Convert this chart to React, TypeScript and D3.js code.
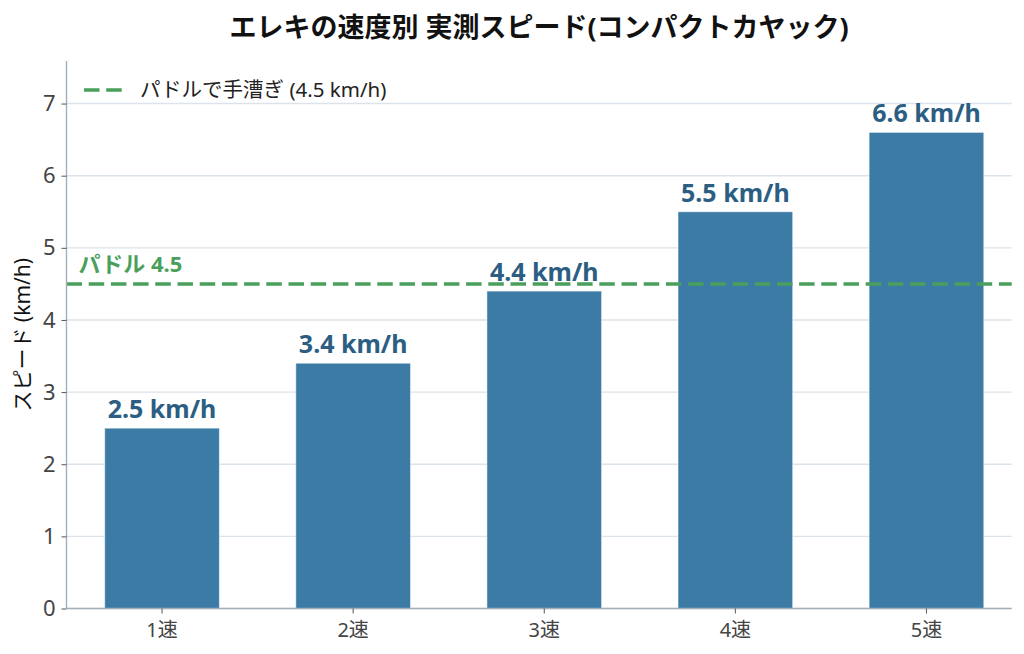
import React, { useEffect, useRef } from 'react';
import * as d3 from 'd3';

const categories = ['1速', '2速', '3速', '4速', '5速'];
const speeds = [2.5, 3.4, 4.4, 5.5, 6.6];
const yTicks = [0, 1, 2, 3, 4, 5, 6, 7];
const paddleSpeed = 4.5;

const W = 1024;
const H = 654;
const FONT = '"Noto Sans", "Noto Sans CJK JP", sans-serif';

const App: React.FC = () => {
  const svgRef = useRef<SVGSVGElement | null>(null);

  useEffect(() => {
    const svg = d3.select(svgRef.current);
    svg.selectAll('*').remove();

    const left = 66.5, right = 1011.7, top = 61, bottom = 608.5;
    const green = '#4a9f5c';
    const dash = '15.5,6.7';

    const x = d3.scaleBand<string>()
      .domain(categories)
      .range([left, left + 5 * 191.1])
      .paddingInner(0.4)
      .paddingOuter(0.2);

    const y = d3.scaleLinear()
      .domain([0, d3.max(speeds)! * 1.15])
      .range([bottom, top]);

    // grid lines
    svg.append('g')
      .selectAll('line')
      .data(yTicks)
      .join('line')
      .attr('x1', left)
      .attr('x2', right)
      .attr('y1', d => y(d))
      .attr('y2', d => y(d))
      .attr('stroke', '#dde3ea')
      .attr('stroke-width', 1.4);

    // bars
    svg.append('g')
      .selectAll('rect')
      .data(speeds)
      .join('rect')
      .attr('x', (_, i) => x(categories[i])!)
      .attr('y', d => y(d))
      .attr('width', x.bandwidth())
      .attr('height', d => y(0) - y(d))
      .attr('fill', '#3b7ba6')
      .attr('stroke', '#ffffff')
      .attr('stroke-opacity', 0.5)
      .attr('stroke-width', 1);

    // value labels
    svg.append('g')
      .selectAll('text')
      .data(speeds)
      .join('text')
      .attr('x', (_, i) => x(categories[i])! + x.bandwidth() / 2)
      .attr('y', d => y(d) - 10)
      .attr('text-anchor', 'middle')
      .attr('font-family', FONT)
      .attr('font-weight', 700)
      .attr('font-size', 25)
      .attr('fill', '#2b5e82')
      .text(d => `${d.toFixed(1)} km/h`);

    // paddle reference line
    svg.append('line')
      .attr('x1', left)
      .attr('x2', right)
      .attr('y1', y(paddleSpeed))
      .attr('y2', y(paddleSpeed))
      .attr('stroke', green)
      .attr('stroke-width', 3.5)
      .attr('stroke-dasharray', dash);

    svg.append('text')
      .attr('x', left + 12)
      .attr('y', y(paddleSpeed) - 12)
      .attr('font-family', FONT)
      .attr('font-weight', 700)
      .attr('font-size', 22)
      .attr('fill', green)
      .text(`パドル ${paddleSpeed}`);

    // y axis
    svg.append('g')
      .attr('transform', `translate(${left},0)`)
      .call(d3.axisLeft(y).tickValues(yTicks).tickSize(5).tickPadding(6).tickFormat(d3.format('d')))
      .call(g => g.select('.domain').attr('stroke', '#a3b0bc').attr('stroke-width', 1.4).attr('d', `M0,${top}V${bottom}`))
      .call(g => g.selectAll('.tick line').attr('stroke', '#555'))
      .call(g => g.selectAll('.tick text')
        .attr('font-family', FONT)
        .attr('font-size', 22)
        .attr('fill', '#444'));

    // x axis
    svg.append('g')
      .attr('transform', `translate(0,${bottom})`)
      .call(d3.axisBottom(x).tickSize(5).tickPadding(9))
      .call(g => g.select('.domain').attr('stroke', '#a3b0bc').attr('stroke-width', 1.4).attr('d', `M${left},0H${right}`))
      .call(g => g.selectAll('.tick line').attr('stroke', '#555'))
      .call(g => g.selectAll('.tick text')
        .attr('font-family', FONT)
        .attr('font-size', 20)
        .attr('fill', '#444'));

    // y label
    svg.append('text')
      .attr('transform', `translate(30,${(top + bottom) / 2}) rotate(-90)`)
      .attr('text-anchor', 'middle')
      .attr('font-family', FONT)
      .attr('font-size', 21)
      .attr('fill', '#111')
      .text('スピード (km/h)');

    // title
    svg.append('text')
      .attr('x', (left + right) / 2)
      .attr('y', 37)
      .attr('text-anchor', 'middle')
      .attr('font-family', FONT)
      .attr('font-weight', 700)
      .attr('font-size', 27)
      .attr('fill', '#111')
      .text('エレキの速度別 実測スピード(コンパクトカヤック)');

    // legend
    const lg = svg.append('g').attr('transform', `translate(84,${y(7) - 13.5})`);
    lg.append('line')
      .attr('x1', 0)
      .attr('x2', 38)
      .attr('stroke', green)
      .attr('stroke-width', 3.5)
      .attr('stroke-dasharray', dash);
    lg.append('text')
      .attr('x', 56)
      .attr('y', 7)
      .attr('font-family', FONT)
      .attr('font-size', 20.5)
      .attr('fill', '#222')
      .text(`パドルで手漕ぎ (${paddleSpeed} km/h)`);
  }, []);

  return (
    <div style={{ position: 'absolute', left: 0, top: 0 }}>
      <svg ref={svgRef} width={W} height={H} style={{ display: 'block', background: '#fff' }} />
    </div>
  );
};

export default App;
